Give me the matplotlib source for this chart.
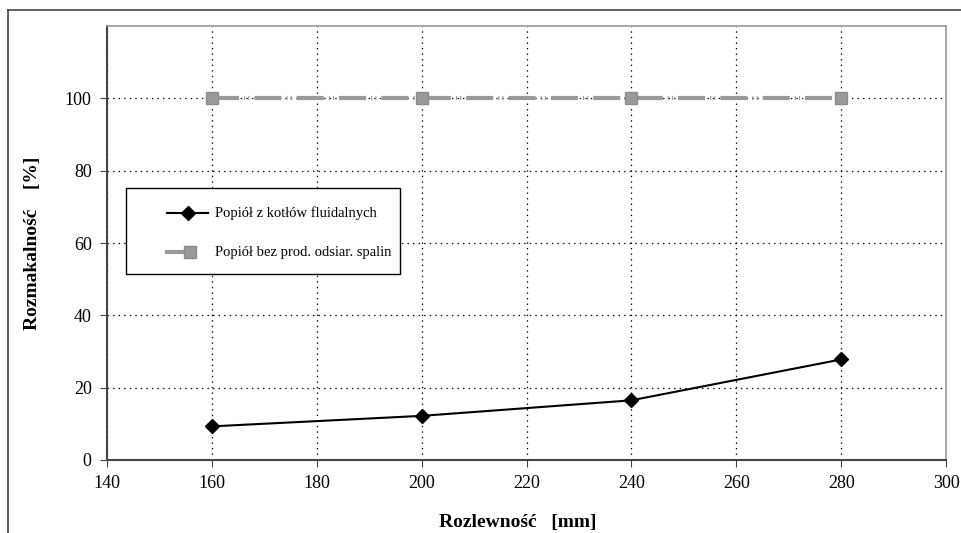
import matplotlib.pyplot as plt
from matplotlib.lines import Line2D
from matplotlib.patches import Rectangle

# data
rozlewnosc = [160, 200, 240, 280]
fluidalne = [9.3, 12.2, 16.5, 27.8]
bez_odsiarczania = [100, 100, 100, 100]
x_ticks = [140, 160, 180, 200, 220, 240, 260, 280, 300]
y_ticks = [0, 20, 40, 60, 80, 100]
labels = ['Popiół z kotłów fluidalnych', 'Popiół bez prod. odsiar. spalin']

plt.rcParams['font.family'] = ['Liberation Serif', 'DejaVu Serif']
plt.rcParams['lines.scale_dashes'] = False

fig = plt.figure(figsize=(9.62, 5.33), dpi=100)
ax = fig.add_axes([0.1112, 0.137, 0.8722, 0.814])

black_style = dict(color='k', lw=1.5, marker='D', markersize=7)
gray_style = dict(color='#999999', lw=3, marker='s', markersize=9,
                  markeredgecolor='#8c8c8c')

ax.plot(rozlewnosc, fluidalne, **black_style)
ax.plot(rozlewnosc, bez_odsiarczania, dashes=(19.5, 3.6, 0.8, 2.2, 0.8, 3.6),
        **gray_style)

ax.set_xlim(140, 300)
ax.set_ylim(0, 120)
ax.set_xticks(x_ticks)
ax.set_yticks(y_ticks)
ax.tick_params(labelsize=13, length=5, direction='out', color='#444444', pad=6)
ax.grid(True, linestyle=(0, (1, 3)), color='k', lw=0.9)
ax.set_axisbelow(True)

for s in ['left', 'bottom']:
    ax.spines[s].set_color('#444444')
    ax.spines[s].set_linewidth(1.5)
for s in ['top', 'right']:
    ax.spines[s].set_color('#999999')
    ax.spines[s].set_linewidth(1.2)

ax.set_xlabel('Rozlewność   [mm]', fontsize=14, fontweight='bold')
ax.xaxis.set_label_coords(0.49, -0.125)
ax.set_ylabel('Rozmakalność    [%]', fontsize=14, fontweight='bold', labelpad=17)

# legend box drawn by hand, placed like the original one
ax.add_patch(Rectangle((0.0226, 0.4286), 0.3266, 0.1981, transform=ax.transAxes,
                       facecolor='white', edgecolor='k', lw=1.0, zorder=5))
ax.add_line(Line2D([0.0715, 0.1204], [0.5691, 0.5691], transform=ax.transAxes,
                   color='k', lw=1.5, zorder=6))
ax.add_line(Line2D([0.0965], [0.5691], transform=ax.transAxes, ls='none',
                   marker='D', markersize=7, color='k', zorder=6))
ax.add_line(Line2D([0.0715, 0.0990], [0.4793, 0.4793], transform=ax.transAxes,
                   color='#999999', lw=3, zorder=6))
ax.add_line(Line2D([0.0990], [0.4793], transform=ax.transAxes, ls='none',
                   marker='s', markersize=9, color='#999999',
                   markeredgecolor='#8c8c8c', zorder=6))
for y, lab in zip([0.5691, 0.4793], labels):
    ax.text(0.1287, y, lab, transform=ax.transAxes, fontsize=10.5,
            va='center', ha='left', zorder=6)

# outer chart frame
fig.add_artist(Line2D([8/962, 1], [1 - 10/533, 1 - 10/533], color='#444444', lw=1.2))
fig.add_artist(Line2D([8/962, 8/962], [0, 1 - 10/533], color='#444444', lw=1.2))

fig.savefig('out.png', dpi=100)
